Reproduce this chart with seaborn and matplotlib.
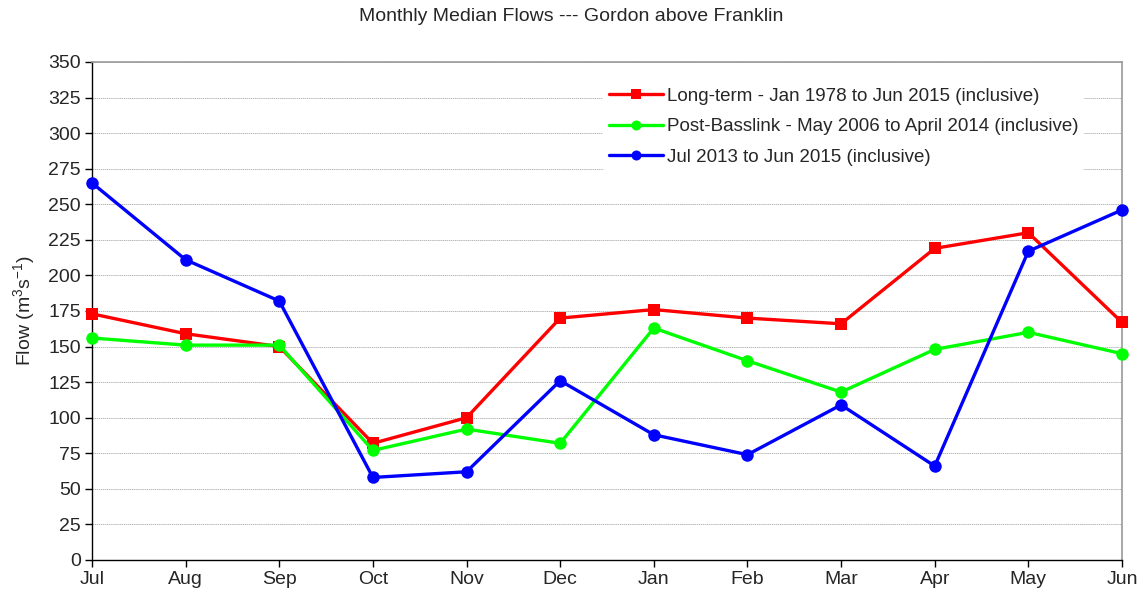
import matplotlib
matplotlib.use("Agg")
import matplotlib.pyplot as plt
import pandas as pd
import seaborn as sns

months = ["Jul", "Aug", "Sep", "Oct", "Nov", "Dec", "Jan", "Feb", "Mar", "Apr", "May", "Jun"]
long_term = [173, 159, 150, 82, 100, 170, 176, 170, 166, 219, 230, 167]
post_basslink = [156, 151, 151, 77, 92, 82, 163, 140, 118, 148, 160, 145]
recent = [265, 211, 182, 58, 62, 126, 88, 74, 109, 66, 217, 246]

labels = [
    "Long-term - Jan 1978 to Jun 2015 (inclusive)",
    "Post-Basslink - May 2006 to April 2014 (inclusive)",
    "Jul 2013 to Jun 2015 (inclusive)",
]
colors = ["#ff0000", "#00ff00", "#0000ff"]
markers = ["s", "o", "o"]

rows = []
for lab, vals in zip(labels, [long_term, post_basslink, recent]):
    for i, v in enumerate(vals):
        rows.append({"pos": i, "month": months[i], "flow": v, "series": lab})
df = pd.DataFrame(rows)

sns.set_style("white")
plt.rcParams["font.family"] = ["Liberation Sans", "DejaVu Sans"]
plt.rcParams["mathtext.fontset"] = "custom"
plt.rcParams["mathtext.rm"] = "Liberation Sans"

fig = plt.figure(figsize=(11.43, 6), dpi=100)
ax = fig.add_axes([0.0805, 0.0667, 0.9011, 0.83])

for lab, col, mk in zip(labels, colors, markers):
    sub = df[df["series"] == lab]
    sns.lineplot(data=sub, x="pos", y="flow", ax=ax, color=col, linewidth=2.4,
                 marker=mk, markersize=8.5 if mk == "s" else 9, markeredgewidth=0,
                 label=lab, clip_on=False, zorder=3)

ax.set_xlim(0, 11)
ax.set_ylim(0, 350)
ax.set_xticks(range(12))
ax.set_xticklabels(months)
ax.set_yticks(range(0, 351, 25))
ax.tick_params(axis="both", labelsize=14, direction="out", length=5, width=1, color="black",
               left=True, bottom=True, pad=3)
ax.yaxis.grid(True, color="#999999", linestyle=(0, (2, 1)), linewidth=0.5)
ax.xaxis.grid(False)
ax.set_axisbelow(True)

for side in ["left", "bottom"]:
    ax.spines[side].set_color("black")
    ax.spines[side].set_linewidth(1)
for side in ["top", "right"]:
    ax.spines[side].set_color("#999999")
    ax.spines[side].set_linewidth(1.2)

ax.set_xlabel("")
ax.set_ylabel("Flow (m$\\mathregular{^3}$s$\\mathregular{^{-1}}$)", fontsize=14, labelpad=8)
fig.suptitle("Monthly Median Flows --- Gordon above Franklin", fontsize=14, y=0.986)

leg = ax.legend(loc="upper right", bbox_to_anchor=(0.972, 0.979), fontsize=13.5, frameon=True,
                framealpha=1, edgecolor="white", handlelength=2.9, handletextpad=0.2,
                labelspacing=0.72, borderpad=0.3, markerscale=0.8)
leg.get_frame().set_linewidth(0)

fig.savefig("out.png", dpi=100)
